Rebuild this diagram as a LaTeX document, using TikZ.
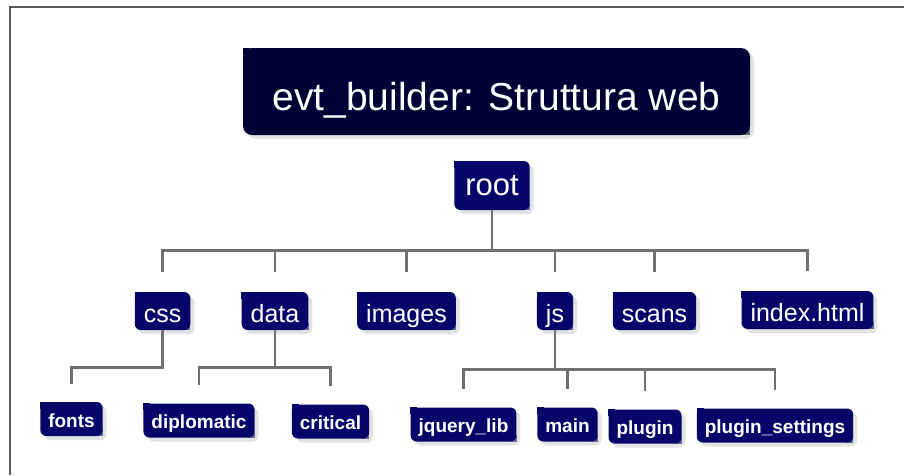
\documentclass[tikz,border=0pt]{standalone}
\usepackage{fontspec}
\setmainfont{Liberation Sans}
\usepackage{tikz}
\usetikzlibrary{shadows}
\usepackage{xcolor}
\definecolor{titleblue}{RGB}{0,0,52}
\definecolor{boxblue}{RGB}{6,6,106}
\definecolor{wiregray}{RGB}{112,112,112}

\begin{document}
\begin{tikzpicture}[x=1pt,y=-1pt,
  box/.style={fill=#1,text=white,inner ysep=0pt,rounded corners=6pt,
    drop shadow={shadow xshift=4pt,shadow yshift=-4pt,fill=black!22},
    append after command={\pgfextra{\begin{pgfinterruptpath}
      \fill[#1,sharp corners] (\tikzlastnode.north west) rectangle ++(7pt,-7pt);
      \fill[#1,sharp corners] (\tikzlastnode.south east) rectangle ++(-7pt,7pt);
      \end{pgfinterruptpath}}}},
  titlebox/.style={box=titleblue,rounded corners=9pt,inner xsep=0pt,minimum width=507pt,
    text height=62pt,text depth=25pt,font=\fontsize{39}{39}\selectfont},
  rootbox/.style={box=boxblue,inner xsep=11pt,text height=34pt,text depth=15pt,
    font=\fontsize{31}{31}\selectfont},
  dirbox/.style={box=boxblue,inner xsep=9pt,text height=30pt,text depth=8pt,
    font=\fontsize{25}{25}\selectfont},
  filebox/.style={box=boxblue,inner xsep=8pt,text height=25pt,text depth=9pt,
    font=\fontsize{19}{19}\selectfont\bfseries},
  wire/.style={draw=wiregray,line width=2.6pt}]
\useasboundingbox (0,0) rectangle (904,475);
\draw[gray!70!black,line width=1.6pt] (10,475) -- (10,7) -- (904,7);
\node[titlebox] (title) at (496.5,91.5) {evt\_builder: Struttura web};
\node[rootbox] (root) at (492,185.5) {root};
\node[dirbox] (css) at (162.5,311) {css};
\node[dirbox] (data) at (275,311) {data};
\node[dirbox] (images) at (406.5,311) {images};
\node[dirbox] (js) at (555,311) {js};
\node[dirbox] (scans) at (654.5,311) {scans};
\node[dirbox] (index) at (807.5,310) {index.html};
\node[filebox] (fonts) at (71.5,419) {fonts};
\node[filebox] (diplomatic) at (199,420.5) {diplomatic};
\node[filebox] (critical) at (330.5,421.5) {critical};
\node[filebox] (jquery) at (463.5,424.5) {jquery\_lib};
\node[filebox] (main) at (567.5,424.5) {main};
\node[filebox] (plugin) at (645,426.5) {plugin};
\node[filebox] (settings) at (775,425.5) {plugin\_settings};
\draw[wire] (root.south) -- ++(0,40) -| ([yshift=20pt]css.north);
\draw[wire] (root.south) -- ++(0,40) -| ([yshift=20pt]data.north);
\draw[wire] (root.south) -- ++(0,40) -| ([yshift=20pt]images.north);
\draw[wire] (root.south) -- ++(0,40) -| ([yshift=20pt]js.north);
\draw[wire] (root.south) -- ++(0,40) -| ([yshift=20pt]scans.north);
\draw[wire] (root.south) -- ++(0,40) -| ([yshift=20pt]index.north);
\draw[wire] (css.south) -- ++(0,37) -| ([yshift=18pt]fonts.north);
\draw[wire] (data.south) -- ++(0,37) -| ([yshift=18pt]diplomatic.north);
\draw[wire] (data.south) -- ++(0,37) -| ([yshift=18pt]critical.north);
\draw[wire] (js.south) -- ++(0,39) -| ([yshift=18pt]jquery.north);
\draw[wire] (js.south) -- ++(0,39) -| ([yshift=18pt]main.north);
\draw[wire] (js.south) -- ++(0,39) -| ([yshift=18pt]plugin.north);
\draw[wire] (js.south) -- ++(0,39) -| ([yshift=18pt]settings.north);
\end{tikzpicture}
\end{document}
